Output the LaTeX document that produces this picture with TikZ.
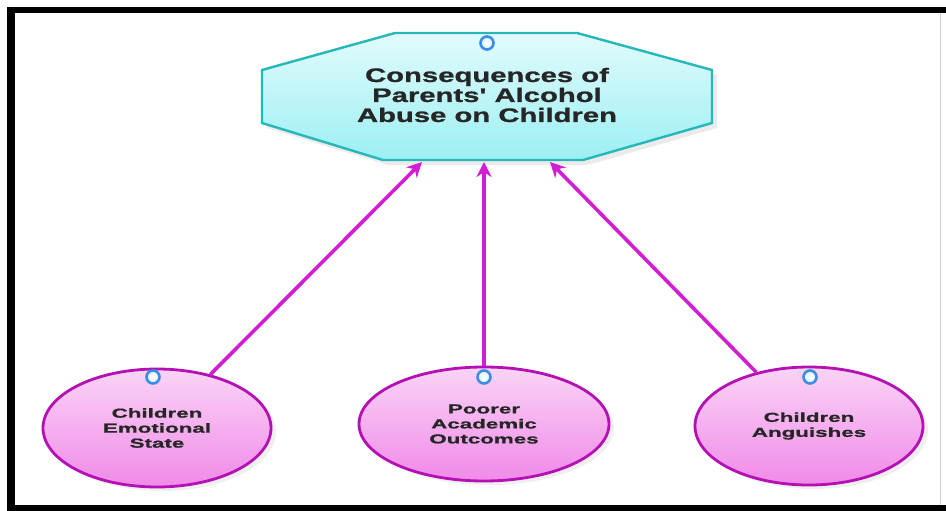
\documentclass[tikz,border=0pt]{standalone}
\usepackage{fontspec}
\usetikzlibrary{shapes.geometric,arrows.meta,shadows}
\newfontfamily\titlefont[FakeStretch=1.5,FakeBold=1]{Liberation Sans}
\newfontfamily\leaffont[FakeStretch=1.72,FakeBold=1]{Liberation Sans}
\definecolor{octfill}{HTML}{9CEFF3}
\definecolor{octtop}{HTML}{E2FBFC}
\definecolor{octline}{HTML}{26B8B8}
\definecolor{pinkfill}{HTML}{F08AE8}
\definecolor{pinktop}{HTML}{FAD4F6}
\definecolor{pinkline}{HTML}{B410B4}
\definecolor{arrowcol}{HTML}{D21ED2}
\definecolor{dotblue}{HTML}{3C8CE6}
\definecolor{dotlight}{HTML}{D8F0FF}
\tikzset{
  leaf/.style={ellipse, draw=pinkline, line width=2.8pt, top color=pinktop, bottom color=pinkfill,
    minimum width=228pt, minimum height=118pt, inner sep=0pt, align=center,
    font=\leaffont\bfseries\fontsize{13}{15}\selectfont, text=black!85,
    drop shadow={shadow xshift=5pt, shadow yshift=-4pt, opacity=0.12}},
  dot/.style={circle, draw=dotblue, line width=2.6pt, inner color=white, outer color=dotlight, inner sep=0pt, minimum size=13pt},
  link/.style={draw=arrowcol, line width=3.6pt, -{Stealth[length=15pt,width=15pt]}},
  frame/.style={line width=7pt, black}
}
\begin{document}
\begin{tikzpicture}[x=1pt,y=-1pt]
\useasboundingbox (0,0) rectangle (946,511);
\fill[white] (0,0) rectangle (946,511);
% frame
\draw[gray!35, line width=1pt] (940,10) -- (940,508);
\draw[frame, line width=8pt] (11,7) -- (11,511);
\draw[frame, line width=6pt] (7,10) -- (946,10);
\draw[frame, line width=6pt] (7,508) -- (946,508);
% octagon
\fill[black, opacity=0.08] (400,38) -- (582,38) -- (717,75) -- (717,128) -- (588,165) -- (388,165) -- (267,128) -- (267,75) -- cycle;
\draw[draw=octline, line width=2.4pt, top color=octtop, bottom color=octfill]
  (395,33) -- (577,33) -- (712,70) -- (712,123) -- (583,160) -- (383,160) -- (262,123) -- (262,70) -- cycle;
\node[dot] (topdot) at (487,43) {};
\node[align=center, font=\titlefont\bfseries\fontsize{19.5}{20}\selectfont, text=black!85] (root) at (487,95)
  {Consequences of\\Parents' Alcohol\\Abuse on Children};
\coordinate (a1) at (422,162);
\coordinate (a2) at (484,162);
\coordinate (a3) at (550,162);
% leaves
\node[leaf] (l1) at (157,428) {Children\\Emotional\\State};
\node[leaf, minimum width=250pt, minimum height=114pt] (l2) at (484,424) {Poorer\\Academic\\Outcomes};
\node[leaf] (l3) at (809,426) {Children\\Anguishes};
\node[dot] (d1) at (153,377) {};
\node[dot] (d2) at (484,377) {};
\node[dot] (d3) at (810,377) {};
% connectors
\draw[link] (l1) -- (a1);
\draw[link] (l2) -- (a2);
\draw[link] (l3) -- (a3);
\end{tikzpicture}
\end{document}
